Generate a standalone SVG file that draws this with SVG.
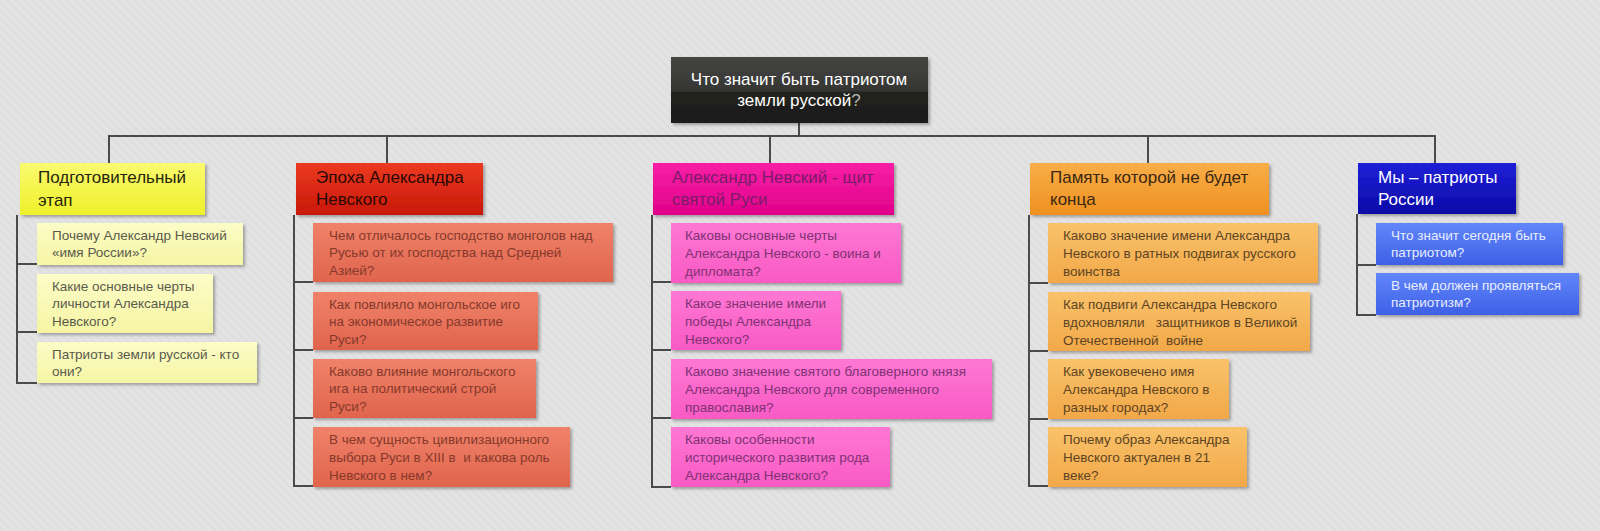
<svg xmlns="http://www.w3.org/2000/svg" width="1600" height="531" viewBox="0 0 1600 531">
<defs>
<pattern id="bg" width="6" height="6" patternUnits="userSpaceOnUse" patternTransform="rotate(45)">
<rect width="6" height="6" fill="#e3e3e3"/>
<rect width="6" height="2" fill="#dedede"/>
</pattern>
<filter id="sh" x="-10%" y="-20%" width="125%" height="150%">
<feDropShadow dx="2" dy="2" stdDeviation="1.5" flood-color="#000" flood-opacity="0.3"/>
</filter>
<linearGradient id="gMain" x1="0" y1="0" x2="0" y2="1">
<stop offset="0" stop-color="#454543"/><stop offset="0.52" stop-color="#353533"/><stop offset="0.53" stop-color="#222220"/><stop offset="1" stop-color="#1c1c1a"/>
</linearGradient>
<linearGradient id="gYH" x1="0" y1="0" x2="0" y2="1"><stop offset="0" stop-color="#fafa70"/><stop offset="1" stop-color="#eef028"/></linearGradient>
<linearGradient id="gYC" x1="0" y1="0" x2="0" y2="1"><stop offset="0" stop-color="#fcfcc8"/><stop offset="1" stop-color="#f5f5a4"/></linearGradient>
<linearGradient id="gRH" x1="0" y1="0" x2="0" y2="1"><stop offset="0" stop-color="#ec3a22"/><stop offset="1" stop-color="#c81808"/></linearGradient>
<linearGradient id="gRC" x1="0" y1="0" x2="0" y2="1"><stop offset="0" stop-color="#f0826a"/><stop offset="1" stop-color="#e0644c"/></linearGradient>
<linearGradient id="gPH" x1="0" y1="0" x2="0" y2="1"><stop offset="0" stop-color="#f820a6"/><stop offset="1" stop-color="#e0008a"/></linearGradient>
<linearGradient id="gPC" x1="0" y1="0" x2="0" y2="1"><stop offset="0" stop-color="#ff78d4"/><stop offset="1" stop-color="#f85ac4"/></linearGradient>
<linearGradient id="gOH" x1="0" y1="0" x2="0" y2="1"><stop offset="0" stop-color="#f8ae48"/><stop offset="1" stop-color="#f09020"/></linearGradient>
<linearGradient id="gOC" x1="0" y1="0" x2="0" y2="1"><stop offset="0" stop-color="#f9c26a"/><stop offset="1" stop-color="#f2a848"/></linearGradient>
<linearGradient id="gBH" x1="0" y1="0" x2="0" y2="1"><stop offset="0" stop-color="#2020d8"/><stop offset="1" stop-color="#0a0aa8"/></linearGradient>
<linearGradient id="gBC" x1="0" y1="0" x2="0" y2="1"><stop offset="0" stop-color="#6286fa"/><stop offset="1" stop-color="#3e60e6"/></linearGradient>
</defs>
<style>
text{font-family:"Liberation Sans",Arial,sans-serif;}
.box{filter:url(#sh);}
.h{font-size:17px;}
.c{font-size:13.5px;}
.m{font-size:17px;fill:#ffffff;text-anchor:middle;}
.q{fill:#b8b8b8;}
.conn line,.conn path{stroke:#4a4a4a;stroke-width:2;fill:none;}
.yH{fill:url(#gYH);} .yHt{fill:#26260c;}
.yC{fill:url(#gYC);} .yCt{fill:#5a5a4c;}
.rH{fill:url(#gRH);} .rHt{fill:#2a0804;}
.rC{fill:url(#gRC);} .rCt{fill:#86392b;}
.pH{fill:url(#gPH);} .pHt{fill:#7c1a6a;}
.pC{fill:url(#gPC);} .pCt{fill:#803274;}
.oH{fill:url(#gOH);} .oHt{fill:#3a2810;}
.oC{fill:url(#gOC);} .oCt{fill:#5e4424;}
.bH{fill:url(#gBH);} .bHt{fill:#ffffff;}
.bC{fill:url(#gBC);} .bCt{fill:#e8eeff;}
</style>
<rect width="1600" height="531" fill="url(#bg)"/>

<g id="connectors" class="conn">
<line x1="799" y1="123" x2="799" y2="136"/>
<line x1="108" y1="136" x2="1436" y2="136"/>
<line x1="109" y1="136" x2="109" y2="163"/>
<line x1="387" y1="136" x2="387" y2="163"/>
<line x1="770" y1="136" x2="770" y2="163"/>
<line x1="1148" y1="136" x2="1148" y2="163"/>
<line x1="1435" y1="136" x2="1435" y2="163"/>
<path d="M17 215 V383 H37 M17 264 H37 M17 332 H37"/>
<path d="M294 215 V486 H313 M294 282 H313 M294 350 H313 M294 418 H313"/>
<path d="M652 215 V487 H671 M652 282 H671 M652 350 H671 M652 418 H671"/>
<path d="M1029 215 V486 H1048 M1029 283 H1048 M1029 351 H1048 M1029 419 H1048"/>
<path d="M1357 214 V315 H1376 M1357 265 H1376"/>
</g>

<g id="root">
<rect class="box" x="671" y="57" width="257" height="66" fill="url(#gMain)"/>
<text class="m" x="799" y="85">Что значит быть патриотом</text>
<text class="m" x="799" y="106">земли русской<tspan class="q">?</tspan></text>
</g>

<g id="n-yellow">
<rect class="box yH" x="20" y="163" width="185" height="52"/>
<text class="h yHt" x="38" y="183">Подготовительный</text>
<text class="h yHt" x="38" y="206">этап</text>
</g>
<g id="n-yellow-1">
<rect class="box yC" x="37" y="223" width="206" height="42"/>
<text class="c yCt" x="52" y="240">Почему Александр Невский</text>
<text class="c yCt" x="52" y="257">«имя России»?</text>
</g>
<g id="n-yellow-2">
<rect class="box yC" x="37" y="274" width="176" height="59"/>
<text class="c yCt" x="52" y="291">Какие основные черты</text>
<text class="c yCt" x="52" y="308">личности Александра</text>
<text class="c yCt" x="52" y="326">Невского?</text>
</g>
<g id="n-yellow-3">
<rect class="box yC" x="37" y="342" width="220" height="41"/>
<text class="c yCt" x="52" y="359">Патриоты земли русской - кто</text>
<text class="c yCt" x="52" y="376">они?</text>
</g>

<g id="n-red">
<rect class="box rH" x="296" y="163" width="187" height="52"/>
<text class="h rHt" x="316" y="183">Эпоха Александра</text>
<text class="h rHt" x="316" y="205">Невского</text>
</g>
<g id="n-red-1">
<rect class="box rC" x="313" y="223" width="300" height="59"/>
<text class="c rCt" x="329" y="240">Чем отличалось господство монголов над</text>
<text class="c rCt" x="329" y="257">Русью от их господства над Средней</text>
<text class="c rCt" x="329" y="275">Азией?</text>
</g>
<g id="n-red-2">
<rect class="box rC" x="313" y="292" width="225" height="58"/>
<text class="c rCt" x="329" y="309">Как повлияло монгольское иго</text>
<text class="c rCt" x="329" y="326">на экономическое развитие</text>
<text class="c rCt" x="329" y="344">Руси?</text>
</g>
<g id="n-red-3">
<rect class="box rC" x="313" y="359" width="223" height="59"/>
<text class="c rCt" x="329" y="376">Каково влияние монгольского</text>
<text class="c rCt" x="329" y="393">ига на политический строй</text>
<text class="c rCt" x="329" y="411">Руси?</text>
</g>
<g id="n-red-4">
<rect class="box rC" x="313" y="427" width="257" height="60"/>
<text class="c rCt" x="329" y="444">В чем сущность цивилизационного</text>
<text class="c rCt" x="329" y="462" xml:space="preserve">выбора Руси в XIII в  и какова роль</text>
<text class="c rCt" x="329" y="480">Невского в нем?</text>
</g>

<g id="n-pink">
<rect class="box pH" x="653" y="163" width="241" height="52"/>
<text class="h pHt" x="672" y="183">Александр Невский - щит</text>
<text class="h pHt" x="672" y="205">святой Руси</text>
</g>
<g id="n-pink-1">
<rect class="box pC" x="671" y="223" width="230" height="60"/>
<text class="c pCt" x="685" y="240">Каковы основные черты</text>
<text class="c pCt" x="685" y="258">Александра Невского - воина и</text>
<text class="c pCt" x="685" y="276">дипломата?</text>
</g>
<g id="n-pink-2">
<rect class="box pC" x="671" y="291" width="170" height="59"/>
<text class="c pCt" x="685" y="308">Какое значение имели</text>
<text class="c pCt" x="685" y="326">победы Александра</text>
<text class="c pCt" x="685" y="344">Невского?</text>
</g>
<g id="n-pink-3">
<rect class="box pC" x="671" y="359" width="321" height="60"/>
<text class="c pCt" x="685" y="376">Каково значение святого благоверного князя</text>
<text class="c pCt" x="685" y="394">Александра Невского для современного</text>
<text class="c pCt" x="685" y="412">православия?</text>
</g>
<g id="n-pink-4">
<rect class="box pC" x="671" y="427" width="219" height="60"/>
<text class="c pCt" x="685" y="444">Каковы особенности</text>
<text class="c pCt" x="685" y="462">исторического развития рода</text>
<text class="c pCt" x="685" y="480">Александра Невского?</text>
</g>

<g id="n-orange">
<rect class="box oH" x="1030" y="163" width="239" height="52"/>
<text class="h oHt" x="1050" y="183">Память которой не будет</text>
<text class="h oHt" x="1050" y="205">конца</text>
</g>
<g id="n-orange-1">
<rect class="box oC" x="1048" y="223" width="270" height="60"/>
<text class="c oCt" x="1063" y="240">Каково значение имени Александра</text>
<text class="c oCt" x="1063" y="258">Невского в ратных подвигах русского</text>
<text class="c oCt" x="1063" y="276">воинства</text>
</g>
<g id="n-orange-2">
<rect class="box oC" x="1048" y="292" width="262" height="59"/>
<text class="c oCt" x="1063" y="309">Как подвиги Александра Невского</text>
<text class="c oCt" x="1063" y="327" xml:space="preserve">вдохновляли   защитников в Великой</text>
<text class="c oCt" x="1063" y="345" xml:space="preserve">Отечественной  войне</text>
</g>
<g id="n-orange-3">
<rect class="box oC" x="1048" y="359" width="181" height="60"/>
<text class="c oCt" x="1063" y="376">Как увековечено имя</text>
<text class="c oCt" x="1063" y="394">Александра Невского в</text>
<text class="c oCt" x="1063" y="412">разных городах?</text>
</g>
<g id="n-orange-4">
<rect class="box oC" x="1048" y="427" width="199" height="60"/>
<text class="c oCt" x="1063" y="444">Почему образ Александра</text>
<text class="c oCt" x="1063" y="462">Невского актуален в 21</text>
<text class="c oCt" x="1063" y="480">веке?</text>
</g>

<g id="n-blue">
<rect class="box bH" x="1358" y="163" width="158" height="51"/>
<text class="h bHt" x="1378" y="183">Мы – патриоты</text>
<text class="h bHt" x="1378" y="205">России</text>
</g>
<g id="n-blue-1">
<rect class="box bC" x="1376" y="223" width="187" height="42"/>
<text class="c bCt" x="1391" y="240">Что значит сегодня быть</text>
<text class="c bCt" x="1391" y="257">патриотом?</text>
</g>
<g id="n-blue-2">
<rect class="box bC" x="1376" y="273" width="203" height="42"/>
<text class="c bCt" x="1391" y="290">В чем должен проявляться</text>
<text class="c bCt" x="1391" y="307">патриотизм?</text>
</g>
</svg>
